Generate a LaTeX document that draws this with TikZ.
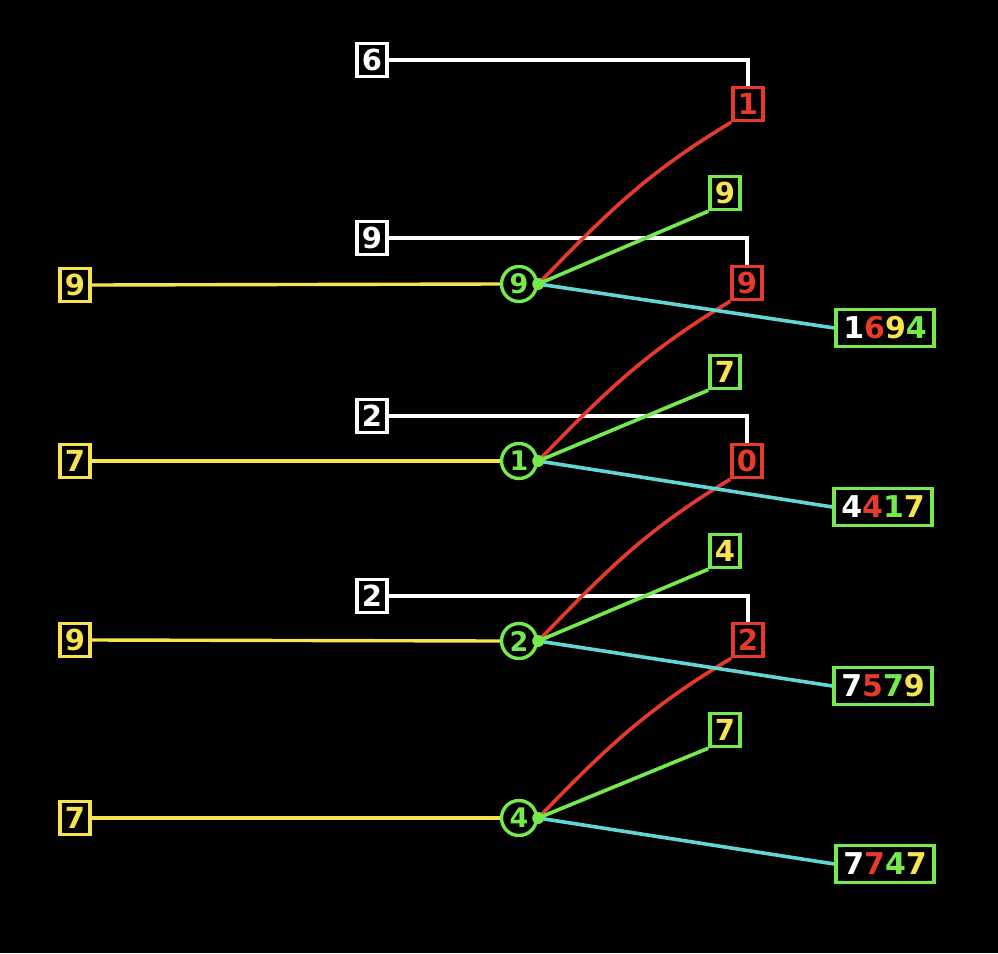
\documentclass[tikz,border=0pt]{standalone}
\usepackage{fontspec}
\setmainfont{DejaVu Sans}[BoldFont={DejaVu Sans Bold}]
\newfontfamily\digfont{DejaVu Sans Bold}
\definecolor{myred}{HTML}{E53A2C}
\definecolor{mygreen}{HTML}{74EA4F}
\definecolor{myyellow}{HTML}{F7E24F}
\definecolor{mycyan}{HTML}{62D6D6}
\begin{document}
\begin{tikzpicture}[x=1pt,y=-1pt,
  dig/.style={font=\digfont\fontsize{29}{29}\selectfont},
  sbox/.style={dig,draw,line width=3.4pt,fill=black,minimum width=30pt,minimum height=33pt,inner sep=0pt},
  wbox/.style={sbox,draw=white,text=white},
  rbox/.style={sbox,draw=myred,text=myred},
  gbox/.style={sbox,draw=mygreen,text=myyellow},
  ybox/.style={sbox,draw=myyellow,text=myyellow},
  cnode/.style={font=\digfont\fontsize{27}{27}\selectfont,circle,draw=mygreen,line width=3.4pt,text=mygreen,minimum size=35pt,inner sep=0pt,fill=black},
  res/.style={font=\digfont\fontsize{30}{30}\selectfont,draw=mygreen,line width=3.4pt,fill=black,minimum width=98pt,minimum height=37pt,inner sep=0pt},
  wl/.style={draw=white,line width=3.4pt},
  yl/.style={draw=myyellow,line width=3.4pt},
  rl/.style={draw=myred,line width=3.6pt},
  gl/.style={draw=mygreen,line width=3.6pt},
  cl/.style={draw=mycyan,line width=3.6pt},
  dotst/.style={circle,fill=mygreen,inner sep=0pt,minimum size=12pt}
]
\fill[black] (0,0) rectangle (998,953);
\useasboundingbox (0,0) rectangle (998,953);

% row 1
\node[wbox] (w1) at (372,60) {6};
\node[rbox] (r1) at (748,104) {1};
\node[gbox] (g1) at (725,193) {9};
\node[ybox] (y1) at (75,285) {9};
\node[res] (s1) at (885,328) {\textcolor{white}{1}\textcolor{myred}{6}\textcolor{myyellow}{9}\textcolor{mygreen}{4}};

% row 2
\node[wbox] (w2) at (372,238) {9};
\node[rbox] (r2) at (747,283) {9};
\node[gbox] (g2) at (725,372) {7};
\node[ybox] (y2) at (75,461) {7};
\node[res] (s2) at (883,507) {\textcolor{white}{4}\textcolor{myred}{4}\textcolor{mygreen}{1}\textcolor{myyellow}{7}};

% row 3
\node[wbox] (w3) at (372,596) {2};
\node[rbox] (r3) at (748,640) {2};
\node[gbox] (g3) at (725,551) {4};
\node[ybox] (y3) at (75,640) {9};
\node[res] (s3) at (883,686) {\textcolor{white}{7}\textcolor{myred}{5}\textcolor{mygreen}{7}\textcolor{myyellow}{9}};

% row 4
\node[rbox] (r0) at (747,461) {0};
\node[wbox] (w0) at (372,416) {2};
\node[gbox] (g4) at (725,730) {7};
\node[ybox] (y4) at (75,818) {7};
\node[res] (s4) at (885,864) {\textcolor{white}{7}\textcolor{myred}{7}\textcolor{mygreen}{4}\textcolor{myyellow}{7}};

% circles
\node[cnode] (c1) at (519,284) {9};
\node[cnode] (c2) at (519,461) {1};
\node[cnode] (c3) at (519,641) {2};
\node[cnode] (c4) at (519,818) {4};
\coordinate (d1) at (c1.east);
\coordinate (d2) at (c2.east);
\coordinate (d3) at (c3.east);
\coordinate (d4) at (c4.east);

% white connectors
\draw[wl] (w1.east) -| (r1.north);
\draw[wl] (w2.east) -| (r2.north);
\draw[wl] (w0.east) -| (r0.north);
\draw[wl] (w3.east) -| (r3.north);

% yellow connectors
\draw[yl] (y1.east) -- (c1.west);
\draw[yl] (y2.east) -- (c2.west);
\draw[yl] (y3.east) -- (c3.west);
\draw[yl] (y4.east) -- (c4.west);

% red curves
\draw[rl] (d1) to[out=46,in=-149] (r1.south west);
\draw[rl] (d2) to[out=46,in=-149] (r2.south west);
\draw[rl] (d3) to[out=46,in=-149] (r0.south west);
\draw[rl] (d4) to[out=46,in=-149] (r3.south west);

% green lines
\draw[gl] (d1) -- (g1.south west);
\draw[gl] (d2) -- (g2.south west);
\draw[gl] (d3) -- (g3.south west);
\draw[gl] (d4) -- (g4.south west);

% cyan lines
\draw[cl] (d1) -- (s1.west);
\draw[cl] (d2) -- (s2.west);
\draw[cl] (d3) -- (s3.west);
\draw[cl] (d4) -- (s4.west);

% dots on top
\node[dotst] (p1) at (d1) {};
\node[dotst] (p2) at (d2) {};
\node[dotst] (p3) at (d3) {};
\node[dotst] (p4) at (d4) {};
\end{tikzpicture}
\end{document}
